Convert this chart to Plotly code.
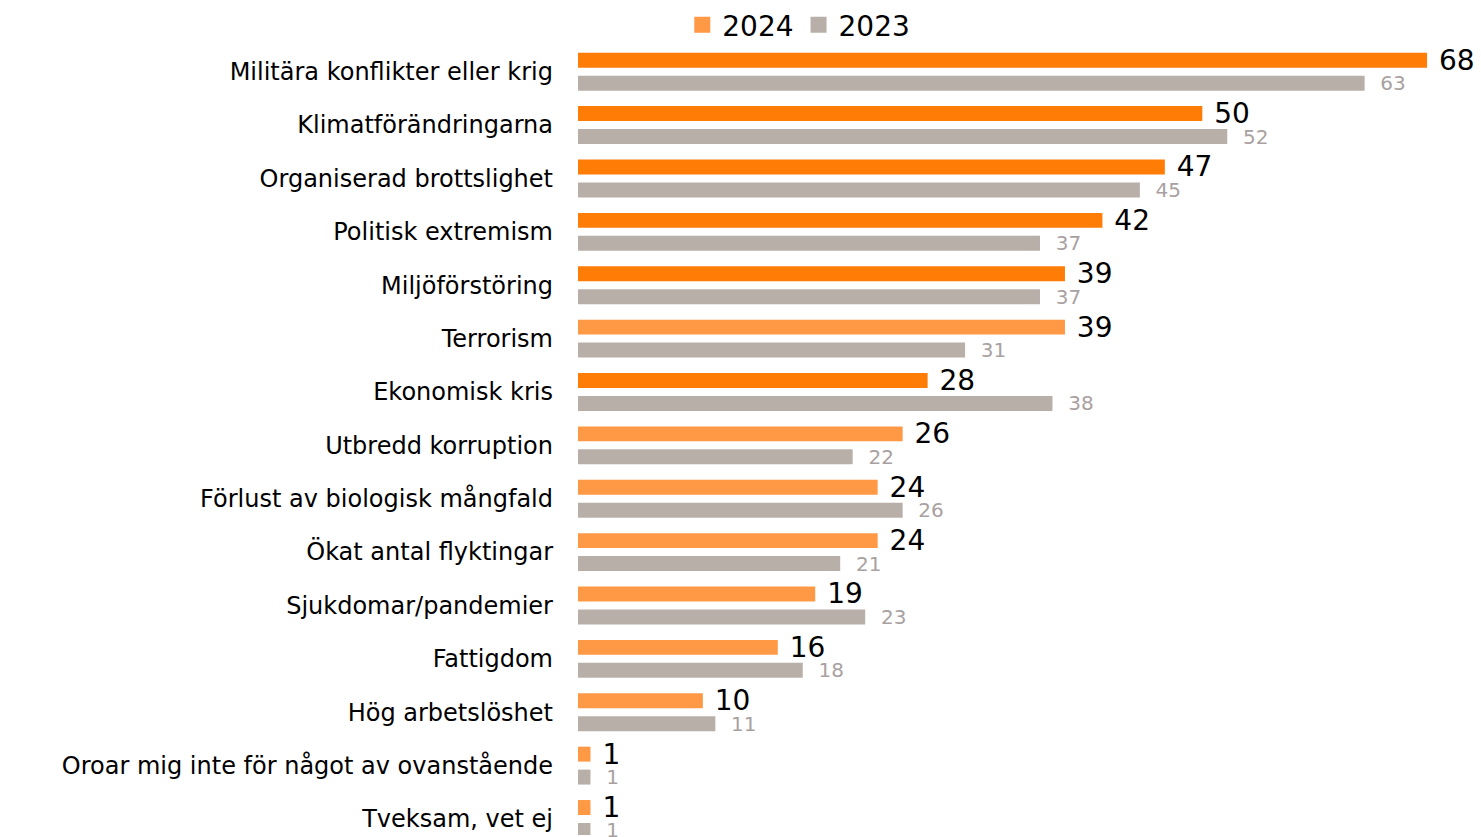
import plotly.graph_objects as go

categories = [
    "Militära konflikter eller krig",
    "Klimatförändringarna",
    "Organiserad brottslighet",
    "Politisk extremism",
    "Miljöförstöring",
    "Terrorism",
    "Ekonomisk kris",
    "Utbredd korruption",
    "Förlust av biologisk mångfald",
    "Ökat antal flyktingar",
    "Sjukdomar/pandemier",
    "Fattigdom",
    "Hög arbetslöshet",
    "Oroar mig inte för något av ovanstående",
    "Tveksam, vet ej",
]
values_2024 = [68, 50, 47, 42, 39, 39, 28, 26, 24, 24, 19, 16, 10, 1, 1]
values_2023 = [63, 52, 45, 37, 37, 31, 38, 22, 26, 21, 23, 18, 11, 1, 1]
significant_2024 = [True, True, True, True, True, False, True, False, False, False, False, False, False, False, False]

DARK_ORANGE = "#FF7D07"
LIGHT_ORANGE = "#FF9946"
GREY = "#B9AFA9"
GREY_TEXT = "#A9A1A1"
FONT = "DejaVu Sans"

colors_2024 = [DARK_ORANGE if s else LIGHT_ORANGE for s in significant_2024]

fig = go.Figure()
fig.add_trace(go.Bar(
    y=categories, x=values_2024, orientation="h",
    marker=dict(color=colors_2024, line=dict(width=0)),
    width=0.28, offset=-0.355,
    text=[f" {v}" for v in values_2024], textposition="outside",
    constraintext="none",
    textfont=dict(size=28, color="#000000", family=FONT),
    cliponaxis=False, showlegend=False, name="2024",
))
fig.add_trace(go.Bar(
    y=categories, x=values_2023, orientation="h",
    marker=dict(color=GREY, line=dict(width=0)),
    width=0.28, offset=0.075,
    text=[f"  {v}" for v in values_2023], textposition="outside",
    constraintext="none",
    textfont=dict(size=20, color=GREY_TEXT, family=FONT),
    cliponaxis=False, showlegend=False, name="2023",
))
# legend entries
for nm, col in (("2024", LIGHT_ORANGE), ("2023", GREY)):
    fig.add_trace(go.Scatter(y=[None], x=[None], mode="markers", name=nm,
                             marker=dict(color=col, symbol="square", size=17)))

fig.update_layout(
    width=1481, height=837,
    margin=dict(l=578, r=4, t=45, b=2, autoexpand=False),
    barmode="overlay",
    plot_bgcolor="white", paper_bgcolor="white",
    font=dict(family=FONT, color="#000000"),
    legend=dict(orientation="h", x=0.116, xanchor="left",
                yref="container", y=1 - 25 / 837, yanchor="middle",
                font=dict(size=28, family=FONT), traceorder="normal",
                itemwidth=30, bgcolor="rgba(0,0,0,0)"),
    xaxis=dict(range=[0, 72], visible=False),
    yaxis=dict(range=[14.3, -0.5], categoryorder="array", categoryarray=categories,
               showgrid=False, zeroline=False, showline=False, ticks="",
               tickfont=dict(size=24, family=FONT, color="#000000"),
               ticklabelstandoff=24),
)

fig.write_html("out.html", config={"displayModeBar": False},
               post_script="document.body.style.margin='0';")
